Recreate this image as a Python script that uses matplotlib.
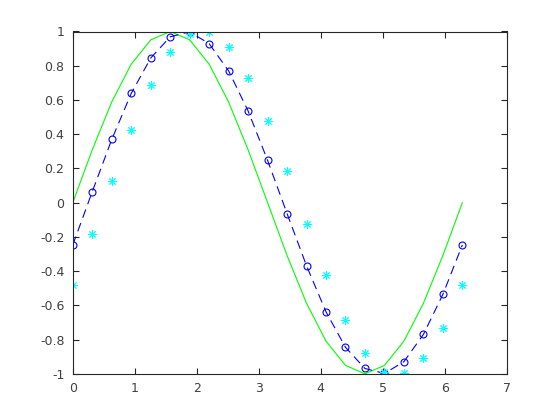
import numpy as np
import matplotlib
matplotlib.use("Agg")
import matplotlib.pyplot as plt

# sampling points (0 .. 2*pi, 21 points)
x = [0.000, 0.314, 0.628, 0.942, 1.257, 1.571, 1.885, 2.199, 2.513, 2.827, 3.142,
     3.456, 3.770, 4.084, 4.398, 4.712, 5.027, 5.341, 5.655, 5.969, 6.283]

# green solid line
y_green = [0.000, 0.309, 0.588, 0.809, 0.951, 1.000, 0.951, 0.809, 0.588, 0.309, 0.000,
           -0.309, -0.588, -0.809, -0.951, -1.000, -0.951, -0.809, -0.588, -0.309, 0.000]

# blue dashed line with circles
y_blue = [-0.247, 0.064, 0.369, 0.638, 0.845, 0.969, 0.998, 0.929, 0.770, 0.536, 0.247,
          -0.064, -0.369, -0.638, -0.845, -0.969, -0.998, -0.929, -0.770, -0.536, -0.247]

# cyan asterisks
y_cyan = [-0.479, -0.185, 0.127, 0.425, 0.688, 0.878, 0.987, 0.998, 0.908, 0.731, 0.479,
          0.185, -0.127, -0.425, -0.688, -0.878, -0.987, -0.998, -0.908, -0.731, -0.479]

xticks = [0, 1, 2, 3, 4, 5, 6, 7]
yticks = [-1, -0.8, -0.6, -0.4, -0.2, 0, 0.2, 0.4, 0.6, 0.8, 1]

fig = plt.figure(figsize=(5.6, 4.2), dpi=100)
ax = fig.add_axes([0.13, 0.11, 0.775, 0.815])

ax.plot(x, y_green, color="#00ff00", lw=0.8)
ax.plot(x, y_blue, color="#0000ff", lw=0.8, ls=(0, (8, 5)),
        marker="o", ms=5, mfc="none", mew=0.8)
ax.plot(x, y_cyan, ls="none", color="#00ffff", marker=(8, 2, 0), ms=6, mew=0.7)

ax.set_xlim(0, 7)
ax.set_ylim(-1, 1)
ax.set_xticks(xticks)
ax.set_yticks(yticks)
ax.set_xticklabels([str(t) for t in xticks])
ax.set_yticklabels([f"{t:g}" for t in yticks])

ax.tick_params(direction="in", top=True, right=True, length=4, width=0.8,
               labelsize=9, color="#262626", labelcolor="#404040", pad=6)
for sp in ax.spines.values():
    sp.set_color("#262626")
    sp.set_linewidth(0.8)

fig.savefig("out.png", dpi=100)
